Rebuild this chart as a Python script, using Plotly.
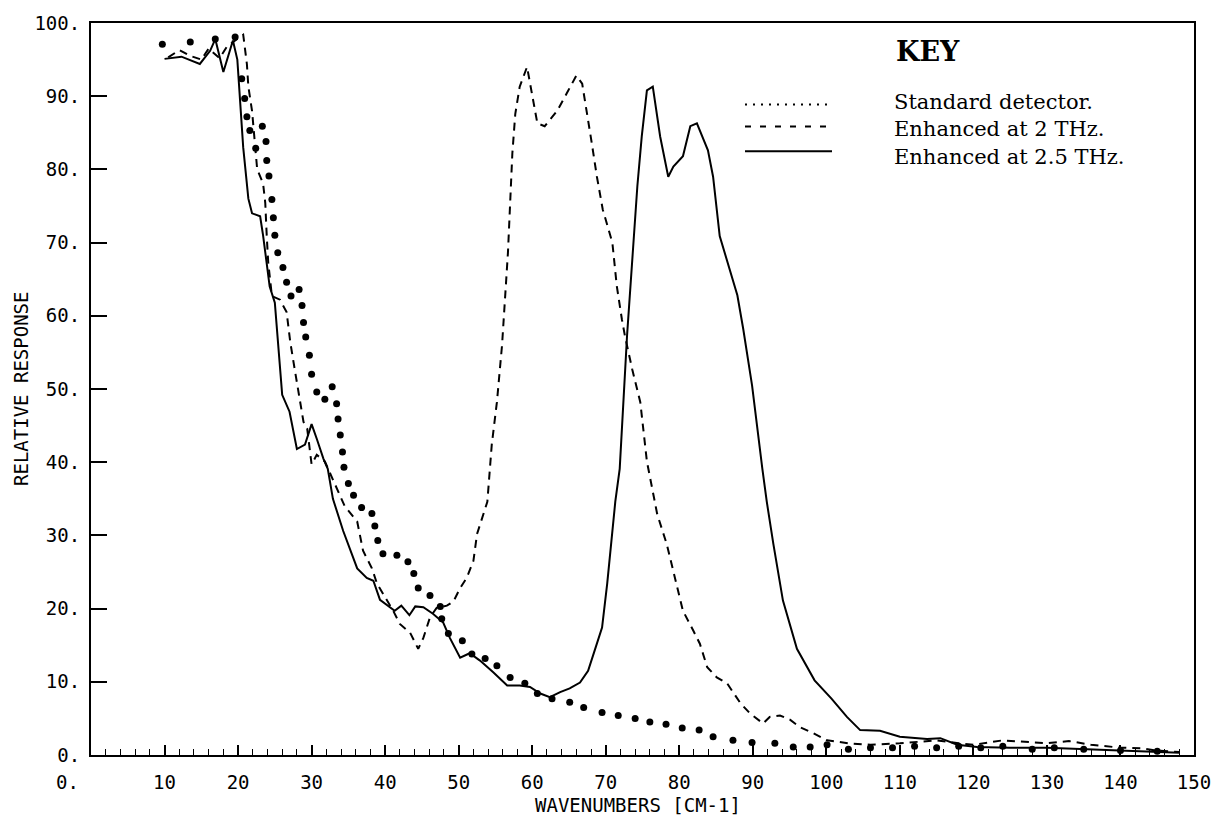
import plotly.graph_objects as go

# ---------------- data ----------------
std_x = [9.7, 13.5, 16.9, 19.6, 20.5, 20.9, 21.2, 21.6, 22.4, 23.3, 23.8, 23.9, 24.2, 24.6, 24.8,
         25.0, 25.4, 26.1, 26.6, 27.2, 28.3, 28.7, 28.9, 29.2, 29.7, 30.0, 30.7, 31.8, 32.8, 33.4,
         33.6, 33.9, 34.2, 34.4, 35.0, 35.7, 36.8, 38.2, 38.6, 39.0, 39.7, 41.6, 43.1, 43.9, 44.5,
         46.1, 47.5, 47.7, 48.6, 50.5, 51.8, 53.6, 55.2, 57.0, 59.0, 60.7, 62.7, 65.1, 67.0, 69.5,
         71.7, 74.0, 76.0, 78.2, 80.4, 82.7, 84.6, 87.3, 89.9, 93.0, 95.5, 97.8, 100.1, 103, 106,
         109, 112, 115, 118, 121, 124, 128, 131, 135, 140, 145]
std_y = [97.1, 97.4, 97.8, 98.1, 92.4, 89.7, 87.2, 85.3, 82.9, 85.9, 83.8, 81.2, 79.1, 75.9, 73.4,
         71.0, 68.6, 66.6, 64.6, 62.7, 63.6, 61.4, 59.1, 57.1, 54.6, 52.0, 49.6, 48.6, 50.3, 48.0,
         45.9, 43.7, 41.4, 39.3, 37.1, 35.5, 33.8, 33.0, 31.3, 29.3, 27.5, 27.3, 26.4, 24.8, 22.8,
         21.8, 20.3, 18.6, 16.6, 15.6, 13.8, 13.2, 12.2, 10.6, 9.8, 8.4, 7.7, 7.2, 6.5, 5.8,
         5.4, 5.0, 4.5, 4.2, 3.7, 3.4, 2.5, 2.0, 1.7, 1.6, 1.1, 1.1, 1.4, 0.8, 1.0,
         1.0, 1.2, 1.0, 1.2, 1.0, 1.2, 0.8, 1.0, 0.8, 0.6, 0.5]

thz2_x = [10.5, 12.0, 13.5, 15.0, 16.0, 17.5, 18.5, 19.5, 20.7, 21.2, 21.4, 21.9, 22.3, 22.6, 23.4,
          23.7, 23.9, 24.1, 24.6, 25.7, 26.6, 27.1, 27.7, 28.4, 28.9, 29.4, 30.0, 30.7, 31.8, 34.5,
          36.2, 37.0, 38.2, 38.9, 40.3, 41.1, 42.0, 43.4, 44.5, 45.2, 46.1, 47.0, 48.4, 49.3, 50.2,
          51.1, 52.0, 52.5, 53.2, 53.9, 54.5, 55.2, 55.9, 56.3, 56.7, 57.0, 57.3, 57.7, 58.3, 59.3,
          60.0, 60.7, 61.7, 63.4, 64.7, 66.0, 66.8, 67.5, 68.1, 68.8, 69.6, 70.9, 71.5, 72.2, 72.6,
          73.6, 74.7, 75.6, 77.0, 78.3, 79.7, 80.5, 81.9, 82.8, 83.8, 85.1, 86.5, 88.3, 89.6, 91.4,
          92.3, 93.7, 95.1, 96.4, 98.2, 100.1, 103, 106, 110, 113, 115, 118, 120, 124, 127, 130,
          133, 136, 140, 143, 145, 148]
thz2_y = [95.3, 96.3, 95.5, 95.0, 96.5, 95.2, 96.8, 97.5, 98.4, 94.4, 91.3, 88.0, 83.1, 80.0, 78.1,
          75.4, 70.9, 67.3, 62.7, 62.2, 60.5, 56.4, 52.7, 48.2, 45.5, 44.6, 39.7, 41.0, 40.1, 34.0,
          31.9, 27.9, 25.5, 23.4, 21.1, 19.7, 17.9, 16.7, 14.5, 16.0, 18.8, 20.1, 20.4, 21.0, 22.8,
          24.2, 26.5, 30.2, 32.4, 34.6, 42.4, 48.2, 56.0, 61.8, 68.6, 75.4, 82.2, 87.6, 91.3, 94.0,
          89.9, 86.3, 85.9, 88.0, 90.4, 92.8, 91.7, 87.6, 83.6, 79.0, 74.5, 70.0, 64.1, 59.5, 57.3,
          52.7, 48.2, 40.1, 32.9, 28.8, 22.8, 19.7, 17.0, 15.2, 12.0, 10.6, 9.8, 7.1, 5.7, 4.3,
          5.2, 5.4, 4.8, 3.8, 3.0, 2.0, 1.6, 1.4, 1.6, 1.8, 2.0, 1.6, 1.4, 2.0, 1.8, 1.6,
          1.9, 1.4, 1.0, 0.9, 0.6, 0.4]

thz25_x = [10.0, 12.3, 14.8, 16.2, 16.9, 18.0, 19.3, 19.9, 20.7, 21.4, 21.9, 23.0, 23.4, 24.3, 25.0,
           26.0, 27.0, 28.0, 29.1, 30.0, 30.7, 31.6, 32.2, 32.9, 34.3, 36.2, 37.5, 38.4, 39.3, 41.3,
           42.2, 43.3, 44.1, 45.2, 46.5, 47.9, 48.8, 50.2, 51.5, 52.9, 54.7, 56.6, 58.3, 59.7, 61.1,
           62.4, 63.8, 65.1, 66.5, 67.6, 68.5, 69.5, 70.2, 70.6, 71.3, 71.9, 72.9, 74.3, 74.9, 75.6,
           76.4, 77.4, 78.5, 79.2, 80.5, 81.5, 82.4, 83.9, 84.6, 85.5, 86.6, 87.9, 88.7, 89.9, 91.3,
           91.9, 92.8, 94.1, 96.0, 98.4, 100.7, 102.8, 104.6, 107.3, 110, 113.7, 115.5, 117.8, 120.5,
           125, 130, 135, 140, 145, 148]
thz25_y = [95.1, 95.4, 94.4, 96.2, 97.8, 93.3, 97.6, 95.0, 83.0, 76.0, 74.0, 73.6, 71.0, 64.0, 61.8,
           49.2, 46.9, 41.8, 42.4, 45.2, 43.2, 40.5, 39.1, 35.0, 30.6, 25.5, 24.2, 23.8, 21.2, 19.7,
           20.4, 19.1, 20.3, 20.2, 19.3, 18.1, 16.0, 13.3, 13.9, 12.9, 11.3, 9.5, 9.5, 9.3, 8.4,
           7.9, 8.6, 9.1, 9.9, 11.5, 14.3, 17.4, 23.4, 27.9, 34.6, 39.1, 57.3, 77.7, 84.5, 90.8,
           91.3, 84.5, 79.0, 80.4, 81.8, 85.9, 86.3, 82.6, 79.0, 70.9, 67.3, 62.8, 58.2, 50.5, 39.1,
           34.6, 28.8, 21.1, 14.5, 10.2, 7.7, 5.2, 3.4, 3.3, 2.5, 2.2, 2.3, 1.4, 1.1,
           1.0, 1.0, 0.8, 0.6, 0.4, 0.3]

x_ticks = list(range(0, 151, 10))
x_ticktext = [""] + [str(v) for v in range(10, 151, 10)]
y_ticks = list(range(0, 101, 10))
y_ticktext = [f"{v}." for v in y_ticks]

legend_labels = ["Standard detector.", "Enhanced at 2 THz.", "Enhanced at 2.5 THz."]

# ---------------- figure ----------------
MONO = "DejaVu Sans Mono"
SERIF = "DejaVu Serif"

fig = go.Figure()
fig.add_trace(go.Scatter(x=std_x, y=std_y, mode="markers", name=legend_labels[0],
                         marker=dict(color="black", size=7, symbol="circle")))
fig.add_trace(go.Scatter(x=thz2_x, y=thz2_y, mode="lines", name=legend_labels[1],
                         line=dict(color="black", width=2, dash="8px,6px")))
fig.add_trace(go.Scatter(x=thz25_x, y=thz25_y, mode="lines", name=legend_labels[2],
                         line=dict(color="black", width=2)))

L, R, T, B = 91, 33, 19, 81
W, H = 1227, 836
pw, ph = W - L - R, H - T - B

def px(xp):
    return (xp - L) / pw

def py(yp):
    return (H - B - yp) / ph

fig.update_layout(
    width=W, height=H,
    margin=dict(l=L, r=R, t=T, b=B, pad=0),
    paper_bgcolor="white", plot_bgcolor="white",
    showlegend=False,
    font=dict(family=MONO, color="black", size=18),
)

fig.update_xaxes(
    range=[0, 150], showgrid=False, zeroline=False,
    showline=True, linecolor="black", linewidth=2, mirror=True,
    ticks="inside", ticklen=10, tickwidth=1.5, tickcolor="black",
    tickvals=x_ticks, ticktext=x_ticktext,
    tickfont=dict(family=MONO, size=19, color="black"),
    ticklabelstandoff=9,
    minor=dict(dtick=2, ticks="inside", ticklen=6, tickwidth=1.2, tickcolor="black", showgrid=False),
)
fig.update_yaxes(
    range=[0, 100], showgrid=False, zeroline=False,
    showline=True, linecolor="black", linewidth=2, mirror=True,
    ticks="inside", ticklen=16, tickwidth=2, tickcolor="black",
    tickvals=y_ticks, ticktext=y_ticktext,
    tickfont=dict(family=MONO, size=19, color="black"),
    ticklabelstandoff=5,
)

annotations = [
    dict(text="0.", xref="paper", yref="paper", x=px(67), y=py(782), showarrow=False,
         font=dict(family=MONO, size=19, color="black"), xanchor="center", yanchor="middle"),
    dict(text="WAVENUMBERS [CM-1]", xref="paper", yref="paper", x=px(638), y=py(805),
         showarrow=False, font=dict(family=MONO, size=19, color="black"),
         xanchor="center", yanchor="middle"),
    dict(text="RELATIVE RESPONSE", xref="paper", yref="paper", x=px(21), y=py(387),
         showarrow=False, textangle=-90, font=dict(family=MONO, size=19, color="black"),
         xanchor="center", yanchor="middle"),
    dict(text="<b>KEY</b>", xref="paper", yref="paper", x=px(894), y=py(48),
         showarrow=False, font=dict(family=SERIF, size=27, color="black"),
         xanchor="left", yanchor="middle"),
    dict(text="<br>".join(legend_labels), xref="paper", yref="paper", x=px(892), y=py(126),
         showarrow=False, align="left", font=dict(family=SERIF, size=21, color="black"),
         xanchor="left", yanchor="middle"),
]
fig.update_layout(annotations=annotations)

sample_y = [101, 123, 148]
sample_dash = ["2px,6px", "6px,9px", "solid"]
for sy, sd in zip(sample_y, sample_dash):
    fig.add_shape(type="line", xref="paper", yref="paper",
                  x0=px(745), x1=px(832), y0=py(sy), y1=py(sy),
                  line=dict(color="black", width=2, dash=sd))

fig.write_html("out.html")
